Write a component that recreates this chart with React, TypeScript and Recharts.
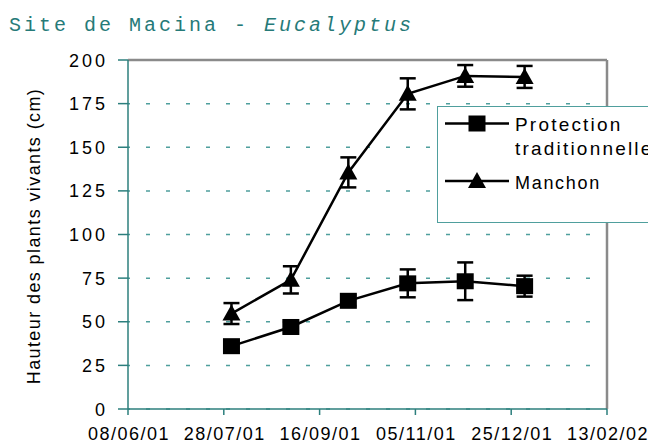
import React from 'react';
import { LineChart, Line, XAxis, YAxis, CartesianGrid, ErrorBar, ReferenceLine } from 'recharts';

const measureDates = ['2001-08-01', '2001-09-01', '2001-10-01', '2001-11-01', '2001-12-01', '2002-01-01'];
const protectionValues = [36, 47, 62, 72, 73.2, 70.4];
const protectionErrors = [3, 3, 3, 8, 10.8, 6];
const manchonValues = [54.7, 74, 135.6, 180.6, 190.9, 190.3];
const manchonErrors = [6, 7.8, 8.6, 8.9, 6.2, 6.3];
const tickDates = ['2001-06-08', '2001-07-28', '2001-09-16', '2001-11-05', '2001-12-25', '2002-02-13'];
const tickLabels = ['08/06/01', '28/07/01', '16/09/01', '05/11/01', '25/12/01', '13/02/02'];
const yTicks = [0, 25, 50, 75, 100, 125, 150, 175, 200];
const seriesNames = ['Protection', 'traditionnelle', 'Manchon'];
const yLabel = 'Hauteur des plants vivants (cm)';

const toDay = (s: string) => Math.round(Date.parse(s) / 86400000);
const tickDays = tickDates.map(toDay);

const data = measureDates.map((d, i) => ({
  day: toDay(d),
  prot: protectionValues[i],
  protErr: protectionErrors[i],
  man: manchonValues[i],
  manErr: manchonErrors[i],
}));

const TEAL = '#2c7f7d';
const GRID = '#4f9f9d';
const FONT = 'Arial, "Liberation Sans", sans-serif';

const SquareDot = (p: any) => (
  <rect key={`s${p.index}`} x={p.cx - 8.5} y={p.cy - 8} width={17} height={16} fill="#000" />
);
const TriDot = (p: any) => (
  <polygon
    key={`t${p.index}`}
    points={`${p.cx},${p.cy - 9} ${p.cx + 9},${p.cy + 7} ${p.cx - 9},${p.cy + 7}`}
    fill="#000"
  />
);

const XTick = (p: any) => {
  const idx = tickDays.indexOf(p.payload.value);
  return (
    <text x={p.x + 1} y={p.y + 23} textAnchor="middle" fontFamily={FONT} fontSize={18} letterSpacing={1.5} fill="#000">
      {tickLabels[idx]}
    </text>
  );
};

const YTick = (p: any) => (
  <text x={p.x - 8} y={p.y + 6.5} textAnchor="end" fontFamily={FONT} fontSize={18} letterSpacing={3} fill="#000">
    {p.payload.value}
  </text>
);

const YLabel = () => (
  <text
    x={0}
    y={0}
    transform="translate(40,236) rotate(-90)"
    textAnchor="middle"
    fontFamily={FONT}
    fontSize={18}
    letterSpacing={1.4}
    fill="#000"
  >
    {yLabel}
  </text>
);

export default function App() {
  return (
    <div style={{ position: 'absolute', left: 0, top: 0, width: 648, height: 444, overflow: 'hidden', background: '#fff' }}>
      <div
        style={{
          position: 'absolute',
          left: 9,
          top: 16,
          fontFamily: '"Liberation Mono", "Courier New", monospace',
          fontSize: 20,
          lineHeight: '20px',
          letterSpacing: 3,
          color: '#267a78',
          whiteSpace: 'pre',
        }}
      >
        Site de Macina - <i>Eucalyptus</i>
      </div>
      <LineChart width={648} height={444} data={data} margin={{ top: 60, right: 41, bottom: 0, left: 0 }}>
        <CartesianGrid
          horizontal
          vertical={false}
          stroke={GRID}
          strokeWidth={1.5}
          strokeDasharray="4 16"
          strokeDashoffset={2}
        />
        <XAxis
          dataKey="day"
          type="number"
          domain={[tickDays[0], tickDays[tickDays.length - 1]]}
          ticks={tickDays}
          interval={0}
          height={35}
          stroke={TEAL}
          strokeWidth={1.5}
          tickSize={6}
          tick={<XTick />}
          allowDataOverflow
        />
        <YAxis
          domain={[0, 200]}
          ticks={yTicks}
          interval={0}
          width={128}
          stroke={TEAL}
          strokeWidth={1.5}
          tickSize={10}
          tick={<YTick />}
          label={{ content: () => <YLabel /> }}
        />
        <ReferenceLine y={200} stroke="#8a8a8a" strokeWidth={2.5} />
        <ReferenceLine x={tickDays[tickDays.length - 1]} stroke="#8a8a8a" strokeWidth={2.5} />
        <Line
          dataKey="prot"
          name={seriesNames[0]}
          stroke="#000"
          strokeWidth={2.5}
          dot={SquareDot}
          activeDot={false}
          isAnimationActive={false}
        >
          <ErrorBar dataKey="protErr" width={8} stroke="#000" strokeWidth={2.5} direction="y" />
        </Line>
        <Line
          dataKey="man"
          name={seriesNames[2]}
          stroke="#000"
          strokeWidth={2.5}
          dot={TriDot}
          activeDot={false}
          isAnimationActive={false}
        >
          <ErrorBar dataKey="manErr" width={8} stroke="#000" strokeWidth={2.5} direction="y" />
        </Line>
      </LineChart>
      <div
        style={{
          position: 'absolute',
          left: 437,
          top: 106,
          width: 220,
          height: 117,
          border: `1.5px solid ${GRID}`,
          background: '#fff',
          boxSizing: 'border-box',
        }}
      >
        <svg width={220} height={117} style={{ position: 'absolute', left: -1.5, top: -1.5 }}>
          <line x1={8} y1={17.5} x2={72} y2={17.5} stroke="#000" strokeWidth={2.5} />
          <rect x={31.5} y={9.5} width={17} height={16} fill="#000" />
          <text x={78} y={24.5} fontFamily={FONT} fontSize={19} letterSpacing={2.2} fill="#000">
            {seriesNames[0]}
          </text>
          <text x={78} y={49} fontFamily={FONT} fontSize={19} letterSpacing={2.2} fill="#000">
            {seriesNames[1]}
          </text>
          <line x1={8} y1={75} x2={72} y2={75} stroke="#000" strokeWidth={2.5} />
          <polygon points="40,66 49,82 31,82" fill="#000" />
          <text x={78} y={83} fontFamily={FONT} fontSize={18} letterSpacing={1.7} fill="#000">
            {seriesNames[2]}
          </text>
        </svg>
      </div>
    </div>
  );
}
